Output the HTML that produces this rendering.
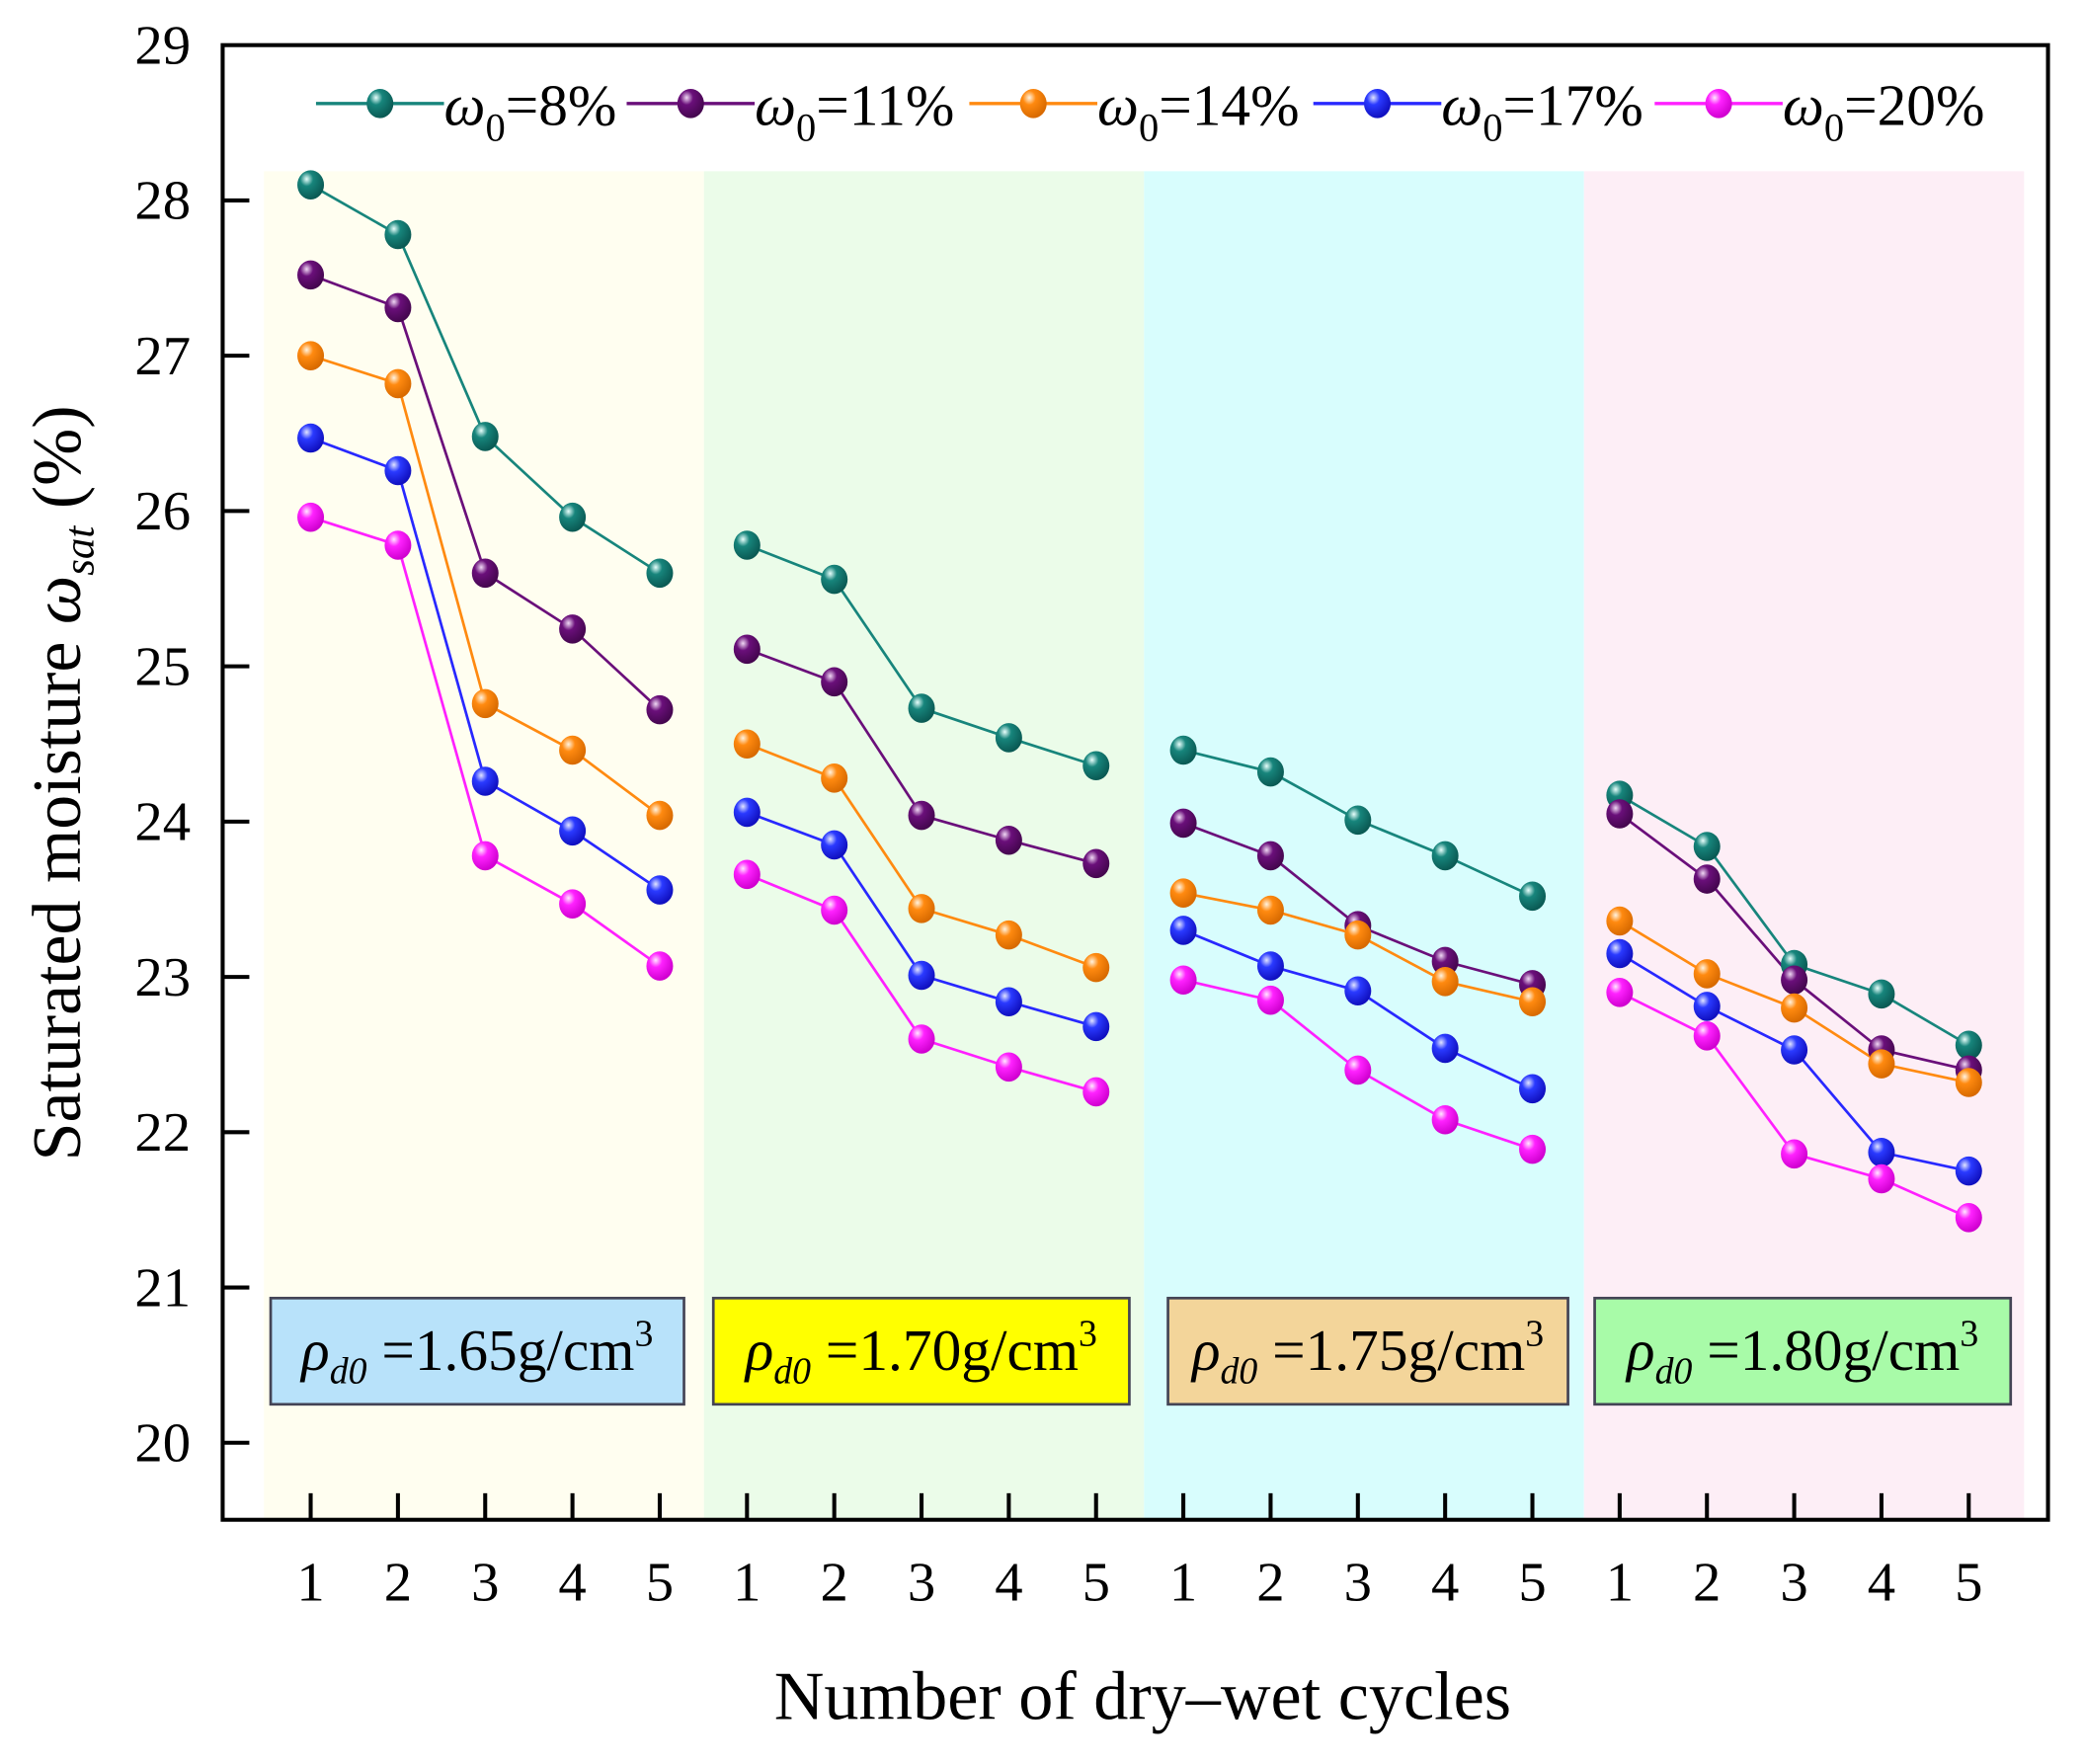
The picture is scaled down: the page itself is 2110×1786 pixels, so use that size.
<!DOCTYPE html>
<html><head><meta charset="utf-8"><style>
html,body{margin:0;padding:0;background:#fff;}
svg{display:block;font-family:"Liberation Serif",serif;}
</style></head><body>
<svg id="chart" width="2110" height="1786" viewBox="0 0 1563 1329" preserveAspectRatio="none" xmlns="http://www.w3.org/2000/svg">
<defs>
<radialGradient id="g0" cx="0.35" cy="0.3" r="0.7"><stop offset="0" stop-color="#e8fffc"/><stop offset="0.35" stop-color="#17857c"/><stop offset="1" stop-color="#0a5a54"/></radialGradient>
<radialGradient id="g1" cx="0.35" cy="0.3" r="0.7"><stop offset="0" stop-color="#f0d8f4"/><stop offset="0.35" stop-color="#6a0f7a"/><stop offset="1" stop-color="#45064f"/></radialGradient>
<radialGradient id="g2" cx="0.35" cy="0.3" r="0.7"><stop offset="0" stop-color="#fff3e0"/><stop offset="0.35" stop-color="#ff8a10"/><stop offset="1" stop-color="#d86a00"/></radialGradient>
<radialGradient id="g3" cx="0.35" cy="0.3" r="0.7"><stop offset="0" stop-color="#e0e4ff"/><stop offset="0.35" stop-color="#2a3aff"/><stop offset="1" stop-color="#1010c0"/></radialGradient>
<radialGradient id="g4" cx="0.35" cy="0.3" r="0.7"><stop offset="0" stop-color="#ffe8ff"/><stop offset="0.35" stop-color="#ff22ff"/><stop offset="1" stop-color="#d000d0"/></radialGradient>
</defs>
<g id="bands"></g>
<g id="boxes"></g>
<g id="lines"></g>
<g id="axes"></g>
<g id="legend"></g>
<text x="857" y="1295" font-size="52" text-anchor="middle">Number of dry–wet cycles</text>
<text transform="translate(60,590) rotate(-90)" font-size="52" text-anchor="middle">Saturated moisture <tspan font-style="italic">ω</tspan><tspan font-style="italic" font-size="32" dy="10">sat</tspan><tspan dy="-10">  (%)</tspan></text>
</svg>
<script>
const series = ["ω0=8%","ω0=11%","ω0=14%","ω0=17%","ω0=20%"];
const colors = ["#17857c","#6a0f7a","#ff8a10","#2828ff","#ff20ff"];
const densities = ["1.65","1.70","1.75","1.80"];
const cycles = [1,2,3,4,5];
const yTicks = [20,21,22,23,24,25,26,27,28,29];
const w8  = [28.1,27.78,26.48,25.96,25.6, 25.78,25.56,24.73,24.54,24.36, 24.46,24.32,24.01,23.78,23.52, 24.17,23.84,23.08,22.89,22.56];
const w11 = [27.52,27.31,25.6,25.24,24.72, 25.11,24.9,24.04,23.88,23.73, 23.99,23.78,23.33,23.1,22.95, 24.05,23.63,22.98,22.53,22.4];
const w14 = [27.0,26.82,24.76,24.46,24.04, 24.5,24.28,23.44,23.27,23.06, 23.54,23.43,23.27,22.97,22.84, 23.36,23.02,22.8,22.44,22.32];
const w17 = [26.47,26.26,24.26,23.94,23.56, 24.06,23.85,23.01,22.84,22.68, 23.3,23.07,22.91,22.54,22.28, 23.15,22.81,22.53,21.87,21.75];
const w20 = [25.96,25.78,23.78,23.47,23.07, 23.66,23.43,22.6,22.42,22.26, 22.98,22.85,22.4,22.08,21.89, 22.9,22.62,21.86,21.7,21.45];
const allSeries = [w8,w11,w14,w17,w20];

const NS="http://www.w3.org/2000/svg";
const L=167,T=34,R=1536,B=1145;
const yS=v=>1087-(v-20)*117;
const xS=i=>233+65.45*i;
function mk(tag,attrs,parent){const e=document.createElementNS(NS,tag);for(const k in attrs)e.setAttribute(k,attrs[k]);parent.appendChild(e);return e;}
const bands=document.getElementById('bands'),boxes=document.getElementById('boxes'),lines=document.getElementById('lines'),axes=document.getElementById('axes'),legend=document.getElementById('legend');
const bandCol=["#fffef0","#ebfce9","#d8fdfd","#fdeef6"];
const boxCol=["#b8e2fa","#ffff00","#f3d59a","#a8fba8"];
const boxX=[[203,513],[535,847],[876,1176],[1196,1508]];
densities.forEach((d,g)=>{
  const x0=198+330*g;
  const b=mk('rect',{x:x0,y:129,width:330,height:B-129,fill:bandCol[g]},bands);
  
  
  const bx=mk('rect',{x:boxX[g][0],y:978,width:boxX[g][1]-boxX[g][0],height:80,fill:boxCol[g],stroke:"#445",'stroke-width':2},boxes);
  
  
  const t=mk('text',{x:(boxX[g][0]+boxX[g][1])/2,y:1032,'font-size':44,'text-anchor':'middle'},boxes);
  
  
  t.innerHTML='<tspan font-style="italic">ρ</tspan><tspan font-style="italic" font-size="28" dy="10">d0</tspan><tspan dy="-10"> =1.'+d.slice(2)+'g/cm</tspan><tspan font-size="28" dy="-18">3</tspan>';
});
allSeries.forEach((vals,s)=>{
  for(let g=0;g<4;g++){
    const pts=[];for(let k=0;k<5;k++){const i=g*5+k;pts.push(xS(i)+','+yS(vals[i]));}
    const pl=mk('polyline',{points:pts.join(' '),fill:'none',stroke:colors[s],'stroke-width':2},lines);
    
    
  }
});
allSeries.forEach((vals,s)=>{
  vals.forEach((v,i)=>{
    const c=mk('ellipse',{cx:xS(i),cy:yS(v),rx:10,ry:11,fill:'url(#g'+s+')'},lines);
    
    
  });
});
const fr=mk('rect',{x:L,y:T,width:R-L,height:B-T,fill:'none',stroke:'#000','stroke-width':3},axes);


yTicks.forEach(v=>{
  const y=yS(v);
  if(v<29){const tk=mk('line',{x1:L,x2:L+20,y1:y,y2:y,stroke:'#000','stroke-width':3},axes);
  
  }
  const t=mk('text',{x:143,y:y+14,'font-size':42,'text-anchor':'end'},axes);
  
  
  t.textContent=v;
});
for(let i=0;i<20;i++){
  const x=xS(i);
  const tk=mk('line',{x1:x,x2:x,y1:B,y2:B-20,stroke:'#000','stroke-width':3},axes);
  
  
  const t=mk('text',{x:x,y:1206,'font-size':42,'text-anchor':'middle'},axes);
  
  
  t.textContent=cycles[i%5];
}
const legX=[237,470,727,985,1241];
series.forEach((n,s)=>{
  const x=legX[s];
  const ln=mk('line',{x1:x,x2:x+96,y1:78,y2:78,stroke:colors[s],'stroke-width':2.5},legend);
  
  
  const m=mk('ellipse',{cx:x+48,cy:78,rx:10,ry:11,fill:'url(#g'+s+')'},legend);
  
  
  const t=mk('text',{x:x+96,y:94,'font-size':44},legend);
  
  
  t.innerHTML='<tspan font-style="italic">ω</tspan><tspan font-size="30" dy="12">0</tspan><tspan dy="-12">'+n.slice(2)+'</tspan>';
});
</script>
</body></html>
